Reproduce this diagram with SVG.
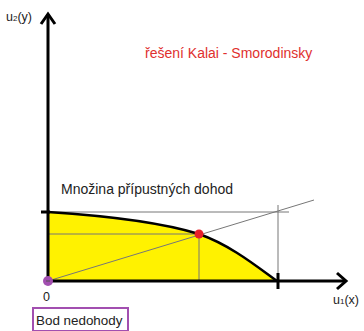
<svg xmlns="http://www.w3.org/2000/svg" width="364" height="331" viewBox="0 0 364 331">
<style>
.t{font-family:"Liberation Sans",Arial,sans-serif;fill:#222}
.thin{stroke:#777;stroke-width:1;fill:none}
.axis{stroke:#000;stroke-width:3;fill:none}
</style>
<rect width="364" height="331" fill="#fff"/>
<g id="region">
<path d="M48,212 C110,216 160,222 199,234 C230,245 255,265 277,281 L48,281 Z" fill="#fff200"/>
</g>
<g id="connectors">
<line class="thin" x1="48" y1="212" x2="289" y2="212"/>
<line class="thin" x1="278" y1="205" x2="278" y2="281"/>
<line class="thin" x1="48" y1="234" x2="199" y2="234"/>
<line class="thin" x1="199" y1="234" x2="199" y2="281"/>
<line class="thin" x1="48" y1="281" x2="314" y2="200"/>
<path d="M48,212 C110,216 160,222 199,234 C230,245 255,265 277,281" stroke="#000" stroke-width="2.5" fill="none"/>
<line class="axis" x1="48" y1="283" x2="48" y2="14"/>
<polyline class="axis" points="41,24 48,14 55,24"/>
<line class="axis" x1="46" y1="281" x2="346" y2="281"/>
<polyline class="axis" points="337,273 346,281 337,289"/>
<line class="axis" x1="41" y1="212" x2="50" y2="212"/>
<line class="axis" x1="278" y1="273" x2="278" y2="289"/>
</g>
<g id="ks-point"><circle cx="199" cy="234" r="4.5" fill="#e8202a"/></g>
<g id="origin"><circle cx="48" cy="281" r="5" fill="#a24fb0"/><line x1="46" y1="281" x2="50" y2="281" stroke="#555" stroke-width="1"/></g>
<g id="labels">
<text class="t" x="6" y="21" font-size="12.5">u<tspan font-size="8">2</tspan>(y)</text>
<text class="t" x="333" y="304" font-size="12.5">u<tspan font-size="8">1</tspan>(x)</text>
<text class="t" x="43" y="301" font-size="12.5">0</text>
<text x="145" y="58" font-size="14" font-family="Liberation Sans,Arial,sans-serif" fill="#e0302e">řešení Kalai - Smorodinsky</text>
<text class="t" x="61" y="194" font-size="14">Množina přípustných dohod</text>
</g>
<g id="bod-nedohody">
<rect x="33" y="308" width="95" height="23" fill="#fff" stroke="#a24fb0" stroke-width="2"/>
<text class="t" x="36" y="325" font-size="13.4">Bod nedohody</text>
</g>
</svg>
